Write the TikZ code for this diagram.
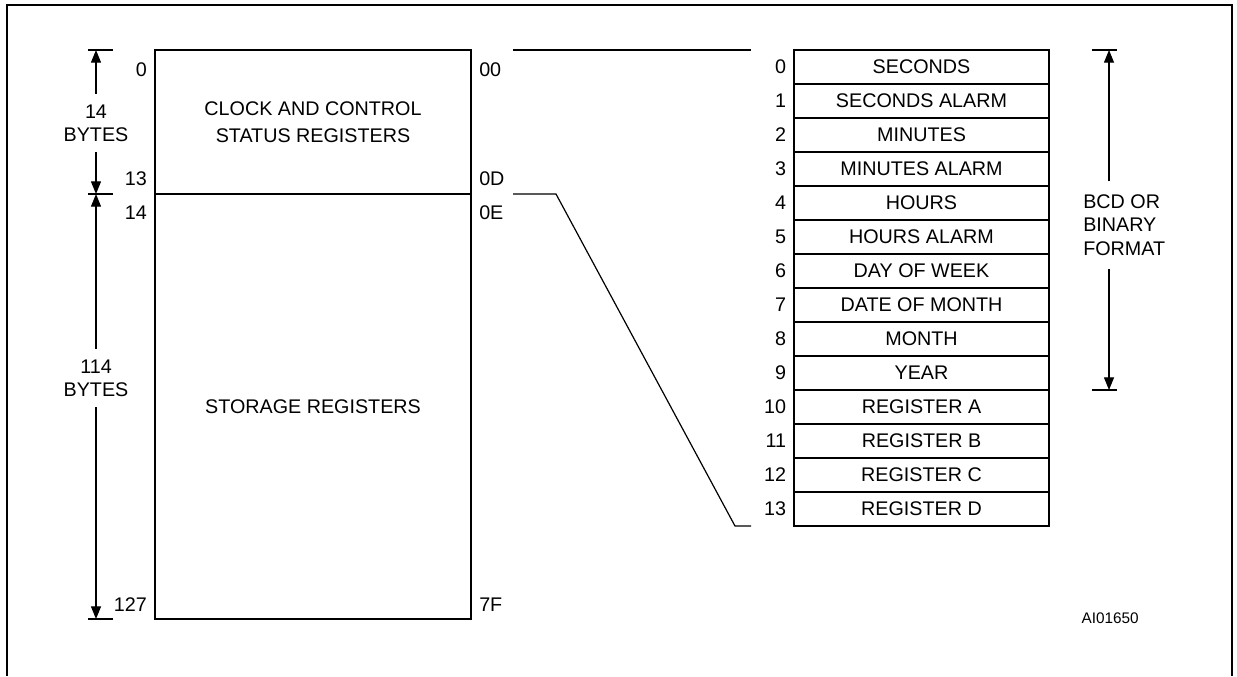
\documentclass[tikz,border=0pt]{standalone}
\usepackage{fontspec}
\setmainfont{Liberation Sans}
\usetikzlibrary{arrows.meta,positioning}

\begin{document}
\begin{tikzpicture}[
  x=0.75pt, y=-0.75pt,
  font=\fontsize{14.8}{17.5}\selectfont,
  frame/.style={line width=1.8pt},
  membox/.style={draw, line width=1.5pt, minimum width=237pt, align=center, inner sep=0pt},
  reg/.style={draw, line width=1.5pt, minimum width=191.25pt, minimum height=25.5pt, inner sep=0pt},
  num/.style={inner sep=0pt},
  dimtext/.style={inner sep=0pt, inner ysep=8pt, align=center},
  dimline/.style={line width=0.9pt, -{Triangle[length=9.5pt,width=7.5pt]}},
  tick/.style={line width=0.9pt},
  conn/.style={line width=0.9pt}
]
\useasboundingbox (0,0) rectangle (1237,676);
\draw[frame] (7,676) -- (7,5) -- (1232,5) -- (1232,676);

% memory map
\node[membox, minimum height=108pt, font=\fontsize{14.8}{20}\selectfont] (clock) at (313,122) {CLOCK AND CONTROL\\STATUS REGISTERS};
\node[membox, minimum height=318.75pt] (storage) at (313,406.5) {STORAGE REGISTERS};

\node[num, anchor=east] (d0) at (147,70) {0};
\node[num, anchor=east] (d13) at (147,179) {13};
\node[num, anchor=east] (d14) at (147,213) {14};
\node[num, anchor=east] (d127) at (147,605) {127};
\node[num, anchor=west] (h00) at (479,70) {00};
\node[num, anchor=west] (h0D) at (479,179) {0D};
\node[num, anchor=west] (h0E) at (479,213) {0E};
\node[num, anchor=west] (h7F) at (479,605) {7F};

% byte counts
\coordinate (ltop) at (96,50);
\coordinate (lmid) at (96,194);
\coordinate (lbot) at (96,619);
\foreach \c in {ltop,lmid,lbot}
  \draw[tick] (\c) ++(-8,0) -- ++(25,0);
\node[dimtext] (b14) at (96,123) {14\\BYTES};
\node[dimtext] (b114) at (96,378) {114\\BYTES};
\draw[dimline] (b14.north) -- (ltop);
\draw[dimline] (b14.south) -- (lmid);
\draw[dimline] (b114.north) -- (lmid);
\draw[dimline] (b114.south) -- (lbot);

% clock registers
\foreach \i/\t in {0/SECONDS, 1/SECONDS ALARM, 2/MINUTES, 3/MINUTES ALARM,
    4/HOURS, 5/HOURS ALARM, 6/DAY OF WEEK, 7/DATE OF MONTH, 8/MONTH, 9/YEAR,
    10/REGISTER A, 11/REGISTER B, 12/REGISTER C, 13/REGISTER D} {
  \node[reg] (r\i) at (921.5,{67+34*\i}) {\t};
  \node[num, left=5pt of r\i] (i\i) {\i};
}

% format span
\coordinate (rtop) at (1109,50);
\coordinate (rbot) at (1109,390);
\foreach \c in {rtop,rbot}
  \draw[tick] (\c) ++(-17,0) -- ++(25,0);
\node[inner sep=0pt, inner ysep=10pt, align=left, anchor=west] (fmt) at (1083,225) {BCD OR\\BINARY\\FORMAT};
\draw[dimline] (fmt.north -| rtop) -- (rtop);
\draw[dimline] (fmt.south -| rbot) -- (rbot);

% expansion lines
\coordinate (a1) at (513,50);
\coordinate (a2) at (751,50);
\coordinate (c1) at (513,194);
\coordinate (c2) at (556,194);
\coordinate (c3) at (735,526);
\coordinate (c4) at (751,526);
\draw[conn] (a1) -- (a2);
\draw[conn] (c1) -- (c2) -- (c3) -- (c4);

\node[num, anchor=east, font=\fontsize{11.5}{13}\selectfont] (code) at (1139,618) {AI01650};
\end{tikzpicture}
\end{document}
